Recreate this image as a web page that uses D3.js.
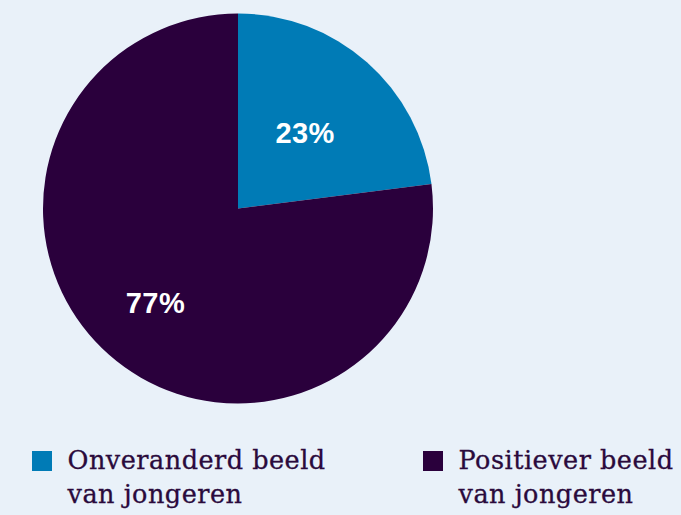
<!DOCTYPE html>
<html>
<head>
<meta charset="utf-8">
<script src="https://cdn.jsdelivr.net/npm/d3@7"></script>
<style>
  html, body { margin: 0; padding: 0; background: #e9f1f9; }
  svg { display: block; }
</style>
</head>
<body>
<svg id="chart" width="681" height="515"></svg>
<script>
// data
const categories = ['Onveranderd beeld van jongeren', 'Positiever beeld van jongeren'];
const legendLines = [['Onveranderd beeld', 'van jongeren'], ['Positiever beeld', 'van jongeren']];
const values = [23, 77];
const colors = ['#007bb6', '#2a003c'];

const width = 681, height = 515;
const cx = 238, cy = 208.5, radius = 195;
// labels sit at different distances along the slice mid-angle
const labelFrac = [0.52, 0.64];

const svg = d3.select('#chart');

svg.append('rect')
  .attr('width', width)
  .attr('height', height)
  .attr('fill', '#e9f1f9');

const pie = d3.pie().sort(null).value(d => d);
const arcs = pie(values);

const arc = d3.arc().innerRadius(0).outerRadius(radius);

const g = svg.append('g').attr('transform', `translate(${cx},${cy})`);

g.selectAll('path.slice')
  .data(arcs)
  .enter()
  .append('path')
  .attr('class', 'slice')
  .attr('d', arc)
  .attr('fill', (d, i) => colors[i]);

g.selectAll('text.pct')
  .data(arcs)
  .enter()
  .append('text')
  .attr('class', 'pct')
  .attr('transform', (d, i) => {
    const r = radius * labelFrac[i];
    const la = d3.arc().innerRadius(r).outerRadius(r);
    const c = la.centroid(d);
    return `translate(${c[0]},${c[1]})`;
  })
  .attr('text-anchor', 'middle')
  .attr('dy', '0.36em')
  .attr('fill', '#ffffff')
  .style('font-family', '"Liberation Sans", Arial, sans-serif')
  .style('font-weight', 'bold')
  .style('font-size', '29px')
  .style('letter-spacing', '0.4px')
  .text(d => d.value + '%');

// legend
const legendX = d3.scaleOrdinal().domain(categories).range([32, 423]);

const legend = svg.selectAll('g.legend')
  .data(categories)
  .enter()
  .append('g')
  .attr('class', 'legend')
  .attr('transform', d => `translate(${legendX(d)},451)`);

legend.append('rect')
  .attr('width', 20)
  .attr('height', 20)
  .attr('fill', (d, i) => colors[i]);

legend.append('text')
  .attr('x', 35.5)
  .attr('y', 18)
  .attr('fill', '#2a0a3c')
  .attr('stroke', '#2a0a3c')
  .attr('stroke-width', 0.3)
  .style('font-family', '"DejaVu Serif", serif')
  .style('font-size', '25.5px')
  .style('letter-spacing', '0.5px')
  .selectAll('tspan')
  .data((d, i) => legendLines[i])
  .enter()
  .append('tspan')
  .attr('x', 35.5)
  .attr('dy', (d, i) => i === 0 ? 0 : 34)
  .text(d => d);
</script>
</body>
</html>
